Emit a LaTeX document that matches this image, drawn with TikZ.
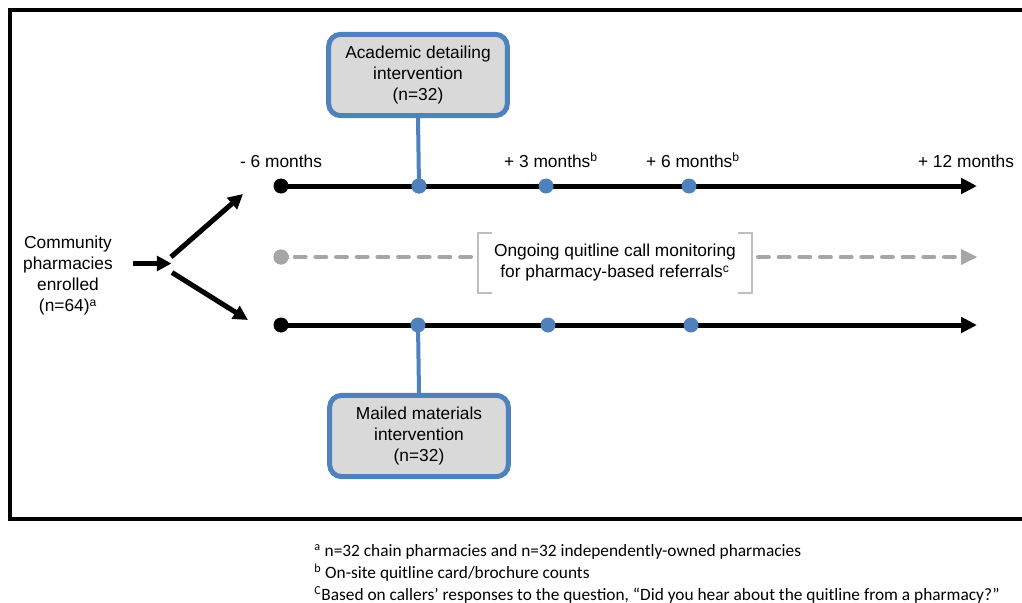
\documentclass[tikz,border=0pt]{standalone}
\usepackage{fontspec}
\setmainfont{Liberation Sans}
\newfontfamily\fnfont{Carlito}
\usetikzlibrary{arrows.meta,calc}
\definecolor{myblue}{HTML}{4F81BD}
\definecolor{boxgray}{HTML}{D9D9D9}
\definecolor{dashgray}{HTML}{A6A6A6}
\definecolor{brgray}{HTML}{BFBFBF}
\begin{document}
\begin{tikzpicture}[x=0.75pt,y=-0.75pt,
 lbl/.style={font=\fontsize{13}{15.75}\selectfont, align=center, inner sep=0pt},
 ibox/.style={draw=myblue, line width=3.75pt, fill=boxgray, rounded corners=9pt,
   minimum width=134pt, minimum height=61pt, align=center,
   font=\fontsize{13}{15.75}\selectfont, inner sep=0pt},
 tl/.style={line width=3.75pt, -{Triangle[length=12pt,width=11.5pt]}},
 sarrow/.style={line width=3.75pt, -{Triangle[length=11pt,width=11pt]}},
 gl/.style={draw=dashgray, line width=3.4pt, line cap=round, dash pattern=on 7.8pt off 7.7pt},
 bdot/.style={circle, fill=myblue, minimum size=11.25pt, inner sep=0pt},
 kdot/.style={circle, fill=black, minimum size=11.25pt, inner sep=0pt},
 gdot/.style={circle, fill=dashgray, minimum size=11.25pt, inner sep=0pt},
 conn/.style={draw=myblue, line width=3pt},
 brk/.style={draw=brgray, line width=1.8pt},
 fn/.style={font=\fnfont\fontsize{13}{15}\selectfont, anchor=base west, inner sep=0pt}
]
\useasboundingbox (0,0) rectangle (1022,603);
% frame (open at right, cut by the page edge)
\draw[line width=3pt] (1030,9.5) -- (9.5,9.5) -- (9.5,519.3) -- (1030,519.3);

% source
\node[lbl] (src) at (68,276) {Community\\pharmacies\\enrolled\\(n=64)\textsuperscript{a}};
\coordinate (s0) at (133,263.5);
\coordinate (s1) at (171.5,263.5);
\coordinate (u0) at (171,257);
\coordinate (u1) at (243,194);
\coordinate (d0) at (172,272.5);
\coordinate (d1) at (248,320);
\draw[sarrow] (s0) -- (s1);
\draw[sarrow] (u0) -- (u1);
\draw[sarrow] (d0) -- (d1);

% top timeline
\node[kdot] (a0) at (281,186) {};
\coordinate (aend) at (977,186);
\draw[tl] (a0.center) -- (aend);
\node[ibox] (abox) at (418,75) {Academic detailing\\intervention\\(n=32)};
\node[bdot] (a1) at (419,186) {};
\draw[conn] (abox.south) -- (a1.center);
\node[bdot] (a1) at (419,186) {};
\node[bdot] (a2) at (546,186) {};
\node[bdot] (a3) at (689,186) {};

\node[lbl] (l0) at (281,161) {- 6 months};
\node[lbl] (l1) at (551,160) {+ 3 months\textsuperscript{b}};
\node[lbl] (l2) at (693,160) {+ 6 months\textsuperscript{b}};
\node[lbl] (l3) at (966,161) {+ 12 months};

% middle dashed timeline
\node[gdot] (g0) at (281,257) {};
\node[lbl, minimum width=205.5pt, minimum height=45pt] (mon) at (615,263)
  {Ongoing quitline call monitoring\\for pharmacy-based referrals\textsuperscript{c}};
\coordinate (gend) at (977,257);
\draw[gl] ($(g0.center)+(14,0)$) -- ($(mon.west |- g0)+(-2,0)$);
\draw[gl] ($(mon.east |- g0)+(6,0)$) -- ($(gend)+(-16,0)$);
\fill[dashgray] (gend) -- ++(-16,-8) -- ++(0,16) -- cycle;
\node[gdot] at (g0) {};
\draw[dashgray, line width=3.4pt] (g0.center) -- ++(8,0);
\draw[brk] ($(mon.north west)+(14,0)$) -- (mon.north west) -- (mon.south west) -- ++(14,0);
\draw[brk] ($(mon.north east)+(-14,0)$) -- (mon.north east) -- (mon.south east) -- ++(-14,0);

% bottom timeline
\node[kdot] (b0) at (281,325) {};
\coordinate (bend) at (977,325);
\draw[tl] (b0.center) -- (bend);
\node[ibox] (bbox) at (419,436) {Mailed materials\\intervention\\(n=32)};
\draw[conn] (bbox.north) -- (418,325);
\node[bdot] (b1) at (418,325) {};
\node[bdot] (b2) at (548,325) {};
\node[bdot] (b3) at (691,325) {};

% footnotes
\node[fn] (f1) at (314,556) {\textsuperscript{a} n=32 chain pharmacies and n=32 independently-owned pharmacies};
\node[fn] (f2) at (314,578) {\textsuperscript{b} On-site quitline card/brochure counts};
\node[fn] (f3) at (314,600) {\textsuperscript{C}Based on callers’ responses to the question, “Did you hear about the quitline from a pharmacy?”};
\end{tikzpicture}
\end{document}
